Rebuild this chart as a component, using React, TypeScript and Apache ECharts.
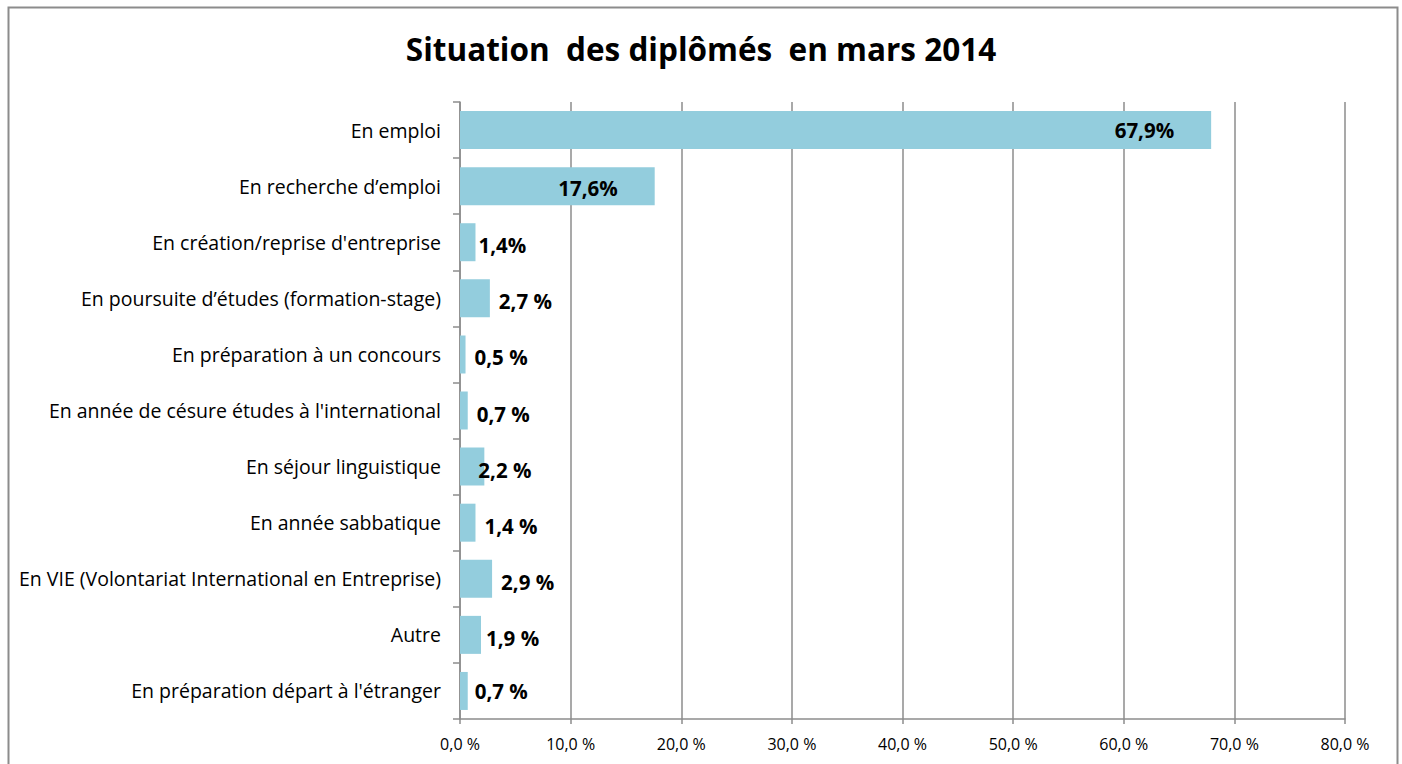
import React, { useEffect, useRef } from "react";
import * as echarts from "echarts";

const categories = [
  "En emploi",
  "En recherche d’emploi",
  "En création/reprise d'entreprise",
  "En poursuite d’études (formation-stage)",
  "En préparation à un concours",
  "En année de césure études à l'international",
  "En séjour linguistique",
  "En année sabbatique",
  "En VIE (Volontariat International en Entreprise)",
  "Autre",
  "En préparation départ à l'étranger",
];
const values = [67.9, 17.6, 1.4, 2.7, 0.5, 0.7, 2.2, 1.4, 2.9, 1.9, 0.7];
const valueLabels = ["67,9%", "17,6%", "1,4%", "2,7 %", "0,5 %", "0,7 %", "2,2 %", "1,4 %", "2,9 %", "1,9 %", "0,7 %"];
const title = "Situation  des diplômés  en mars 2014";

const FONT = "'Open Sans', 'Noto Sans', sans-serif";
const GRAY = "#8c8c8c";

export default function App() {
  const ref = useRef<HTMLDivElement>(null);
  useEffect(() => {
    const chart = echarts.init(ref.current!, null, { renderer: "svg" });
    const xShift: Record<number, number> = { 2: -6, 6: -15, 9: -4, 10: -2 };
    const yShift: Record<number, number> = { 0: 0, 1: 2, 10: 0 };
    const data = values.map((v, i) => {
      const inside = v > 10;
      return {
        value: v,
        label: {
          show: true,
          position: inside ? "insideRight" : "right",
          distance: inside ? 37 : 9,
          offset: [xShift[i] || 0, yShift[i] !== undefined ? yShift[i] : 3],
          formatter: valueLabels[i],
        },
      };
    });
    chart.setOption({
      animation: false,
      backgroundColor: "#ffffff",
      textStyle: { fontFamily: FONT },
      title: {
        text: title,
        left: "center",
        top: 27,
        textStyle: { fontFamily: FONT, fontSize: 31.5, fontWeight: "bold", color: "#000" },
      },
      graphic: [
        {
          type: "rect",
          shape: { x: 8.5, y: 7.5, width: 1389, height: 780 },
          style: { fill: "none", stroke: GRAY, lineWidth: 2 },
          silent: true,
        },
      ],
      grid: { left: 460, right: 57, top: 102, bottom: 45, containLabel: false },
      xAxis: {
        type: "value",
        min: 0,
        max: 80,
        interval: 10,
        axisLine: { show: true, lineStyle: { color: GRAY, width: 1.5 } },
        axisTick: { show: true, length: 5, lineStyle: { color: GRAY, width: 1.5 } },
        splitLine: { show: true, lineStyle: { color: GRAY, width: 1.5 } },
        axisLabel: {
          formatter: (v: number) => v.toFixed(1).replace(".", ",") + " %",
          fontFamily: FONT,
          fontSize: 16,
          color: "#000",
          margin: 17,
        },
      },
      yAxis: {
        type: "category",
        inverse: true,
        data: categories,
        axisLine: { show: true, lineStyle: { color: GRAY, width: 1.5 } },
        axisTick: { show: true, length: 7, lineStyle: { color: GRAY, width: 1.5 } },
        axisLabel: { fontFamily: FONT, fontSize: 19.5, color: "#000", margin: 19 },
      },
      series: [
        {
          type: "bar",
          data,
          barWidth: 38,
          itemStyle: { color: "#93cddd" },
          label: {
            fontFamily: FONT,
            fontSize: 20.5,
            fontWeight: "bold",
            color: "#000",
          },
        },
      ],
    });
    return () => chart.dispose();
  }, []);
  return (
    <div
      ref={ref}
      style={{ position: "fixed", left: 0, top: 0, width: 1402, height: 764 }}
    />
  );
}
